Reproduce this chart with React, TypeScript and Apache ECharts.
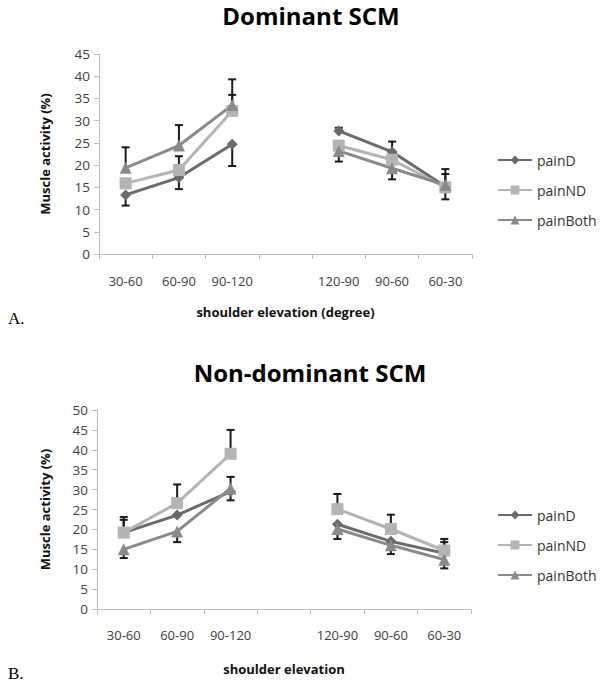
import React, { useEffect, useRef } from "react";
import * as echarts from "echarts";

const categories = ["30-60", "60-90", "90-120", "", "120-90", "90-60", "60-30"];
const seriesNames = ["painD", "painND", "painBoth"];

// Dominant SCM
const domPainD = [13.3, 17.2, 24.7, null, 27.7, 23.0, 15.2];
const domPainND = [15.9, 18.9, 32.2, null, 24.4, 21.2, 15.0];
const domPainBoth = [19.4, 24.4, 33.5, null, 23.2, 19.3, 15.5];
const domPainDErrHigh = [null, null, null, null, 28.4, 25.3, 19.1];
const domPainDErrLow = [10.9, 14.6, 19.8, null, null, null, null];
const domPainNDErrHigh = [null, 22.0, 35.8, null, null, null, 18.0];
const domPainNDErrLow = [null, null, null, null, null, null, null];
const domPainBothErrHigh = [24.0, 29.0, 39.3, null, null, null, null];
const domPainBothErrLow = [null, null, null, null, 20.8, 16.8, 12.3];

// Non-dominant SCM
const ndPainD = [19.2, 23.6, 29.5, null, 21.3, 17.0, 14.0];
const ndPainND = [19.2, 26.6, 39.0, null, 25.1, 20.1, 14.7];
const ndPainBoth = [15.0, 19.5, 30.3, null, 20.1, 16.0, 12.4];
const ndPainDErrHigh = [23.1, null, null, null, null, null, 17.6];
const ndPainDErrLow = [null, null, 27.3, null, null, null, null];
const ndPainNDErrHigh = [22.4, 31.3, 45.0, null, 28.9, 23.7, 16.8];
const ndPainNDErrLow = [null, null, null, null, null, null, null];
const ndPainBothErrHigh = [null, null, 33.2, null, null, null, null];
const ndPainBothErrLow = [12.8, 16.8, null, null, 17.6, 13.8, 10.2];

const colors = ["#6b6b6b", "#b4b4b4", "#8a8a8a"];
const symbols = ["diamond", "rect", "triangle"];
const symbolSizes = [11, 12, 12];
const FONT = "'Open Sans', sans-serif";

function errData(values: (number | null)[][], ends: (number | null)[][]) {
  const out: number[][] = [];
  values.forEach((vals, s) => {
    ends[s].forEach((e, i) => {
      const v = vals[i];
      if (e != null && v != null) out.push([i, v, e]);
    });
  });
  return out;
}

export default function App() {
  const ref = useRef<HTMLDivElement>(null);
  useEffect(() => {
    if (!ref.current) return;
    const chart = echarts.init(ref.current, undefined, { renderer: "svg" });

    const domVals = [domPainD, domPainND, domPainBoth];
    const ndVals = [ndPainD, ndPainND, ndPainBoth];
    const domErr = errData(
      [domPainD, domPainND, domPainBoth, domPainD, domPainND, domPainBoth],
      [domPainDErrHigh, domPainNDErrHigh, domPainBothErrHigh, domPainDErrLow, domPainNDErrLow, domPainBothErrLow]
    );
    const ndErr = errData(
      [ndPainD, ndPainND, ndPainBoth, ndPainD, ndPainND, ndPainBoth],
      [ndPainDErrHigh, ndPainNDErrHigh, ndPainBothErrHigh, ndPainDErrLow, ndPainNDErrLow, ndPainBothErrLow]
    );

    const errRender = (params: any, api: any) => {
      const p0 = api.coord([api.value(0), api.value(1)]);
      const p1 = api.coord([api.value(0), api.value(2)]);
      const style = { stroke: "#1a1a1a", lineWidth: 2 };
      return {
        type: "group",
        children: [
          { type: "line", shape: { x1: p0[0], y1: p0[1], x2: p1[0], y2: p1[1] }, style },
          { type: "line", shape: { x1: p1[0] - 4, y1: p1[1], x2: p1[0] + 4, y2: p1[1] }, style },
        ],
      };
    };

    const xAxisBase = (gridIndex: number, name: string, nameGap: number, margin: number) => ({
      type: "category",
      gridIndex,
      data: categories,
      boundaryGap: true,
      name,
      nameLocation: "middle",
      nameGap,
      nameTextStyle: { fontFamily: FONT, fontWeight: "bold", fontSize: 13, color: "#111" },
      axisLine: { lineStyle: { color: "#bdbdbd", width: 1 } },
      axisTick: { show: true, length: 5, interval: 0, lineStyle: { color: "#bdbdbd" } },
      axisLabel: { interval: 0, margin, fontFamily: FONT, fontSize: 13, color: "#404040" },
      splitLine: { show: false },
    });
    const yAxisBase = (gridIndex: number, max: number, nameGap: number) => ({
      type: "value",
      gridIndex,
      min: 0,
      max,
      interval: 5,
      name: "Muscle activity (%)",
      nameLocation: "middle",
      nameGap,
      nameRotate: 90,
      nameTextStyle: { fontFamily: FONT, fontWeight: "bold", fontSize: 13, color: "#111" },
      axisLine: { show: true, lineStyle: { color: "#bdbdbd", width: 1 } },
      axisTick: { show: true, length: 5, lineStyle: { color: "#bdbdbd" } },
      axisLabel: { margin: 9, fontFamily: FONT, fontSize: 13.5, color: "#404040" },
      splitLine: { show: false },
    });

    const lineSeries = (vals: (number | null)[][], idx: number) =>
      vals.map((d, s) => ({
        type: "line",
        name: seriesNames[s],
        xAxisIndex: idx,
        yAxisIndex: idx,
        data: d,
        connectNulls: false,
        symbol: symbols[s],
        symbolSize: symbolSizes[s],
        showAllSymbol: true,
        lineStyle: { color: colors[s], width: 3 },
        itemStyle: { color: colors[s] },
        z: 3,
      }));

    const legendBase = (top: number) => ({
      orient: "vertical",
      left: 497,
      top,
      padding: 0,
      itemWidth: 34,
      itemHeight: 11,
      itemGap: 16,
      selectedMode: false,
      textStyle: { fontFamily: FONT, fontSize: 14, color: "#333" },
      data: seriesNames,
    });

    chart.setOption({
      animation: false,
      backgroundColor: "#fff",
      grid: [
        { left: 99, top: 54, width: 373, height: 200 },
        { left: 97, top: 410, width: 374, height: 199 },
      ],
      xAxis: [
        xAxisBase(0, "shoulder elevation (degree)", 51, 20),
        xAxisBase(1, "shoulder elevation", 53, 19),
      ],
      yAxis: [yAxisBase(0, 45, 48), yAxisBase(1, 50, 46)],
      legend: [legendBase(153), legendBase(508)],
      series: [
        ...lineSeries(domVals, 0),
        ...lineSeries(ndVals, 1),
        { type: "custom", xAxisIndex: 0, yAxisIndex: 0, data: domErr, renderItem: errRender, z: 2, silent: true },
        { type: "custom", xAxisIndex: 1, yAxisIndex: 1, data: ndErr, renderItem: errRender, z: 2, silent: true },
      ],
      graphic: [
        { type: "text", x: 311, y: 15, style: { text: "Dominant SCM", font: `bold 24px ${FONT}`, fill: "#000", textAlign: "center", textVerticalAlign: "middle" } },
        { type: "text", x: 310, y: 372, style: { text: "Non-dominant SCM", font: `bold 24px ${FONT}`, fill: "#000", textAlign: "center", textVerticalAlign: "middle" } },
        { type: "text", x: 8, y: 318, style: { text: "A.", font: "17px 'Liberation Serif', serif", fill: "#000", textAlign: "left", textVerticalAlign: "middle" } },
        { type: "text", x: 8, y: 673, style: { text: "B.", font: "17px 'Liberation Serif', serif", fill: "#000", textAlign: "left", textVerticalAlign: "middle" } },
      ],
    });
    return () => chart.dispose();
  }, []);
  return <div ref={ref} style={{ position: "fixed", left: 0, top: 0, width: 600, height: 684 }} />;
}
